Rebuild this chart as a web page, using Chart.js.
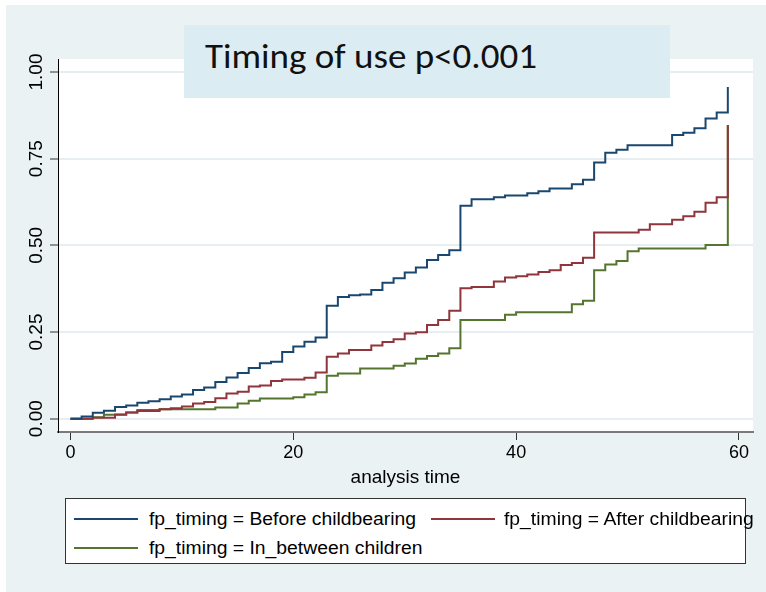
<!DOCTYPE html>
<html><head><meta charset="utf-8">
<script src="https://cdn.jsdelivr.net/npm/chart.js@4.4.1/dist/chart.umd.min.js"></script>
<style>
html,body{margin:0;padding:0;background:#fff;}
#wrap{position:relative;width:766px;height:592px;overflow:hidden;}
#bg{position:absolute;left:6px;top:5px;right:0;bottom:0;background:#eaf2f3;}
canvas{position:absolute;left:0;top:0;}
#title{position:absolute;left:184px;top:25px;width:486px;height:73px;background:#dbecf2;}
#title span{position:absolute;left:21px;top:10px;font-family:Carlito,Lato,sans-serif;font-size:35px;line-height:42px;white-space:nowrap;color:#111;transform-origin:0 0;}
#legend{position:absolute;left:65px;top:498px;width:681px;height:66px;background:#fff;border:1px solid #333;box-sizing:border-box;}
.sw{position:absolute;height:2px;}
.lt{position:absolute;font-family:"Liberation Sans",Arial,sans-serif;font-size:17.5px;line-height:20px;white-space:nowrap;color:#000;transform-origin:0 50%;}
</style></head>
<body>
<div id="wrap">
  <div id="bg"></div>
  <canvas id="c" width="766" height="592"></canvas>
  <div id="title"><span id="tt">Timing of use p&lt;0.001</span></div>
  <div id="legend"></div>
</div>
<script>
// ---- data ----
const seriesLabels = ["fp_timing = Before childbearing", "fp_timing = After childbearing", "fp_timing = In_between children"];
const seriesColors = ["#1a476f", "#90353b", "#55752f"];

const tBefore = [0,1,2,3,4,5,6,7,8,9,10,11,12,13,14,15,16,17,18,19,20,21,22,23,24,25,26,27,28,29,30,31,32,33,34,35,36,38,39,41,42,43,45,46,47,48,49,50,54,55,56,57,58,59];
const vBefore = [0,0.006,0.017,0.023,0.034,0.038,0.046,0.050,0.056,0.064,0.070,0.083,0.090,0.106,0.119,0.132,0.146,0.160,0.164,0.192,0.208,0.222,0.234,0.326,0.351,0.356,0.358,0.371,0.392,0.405,0.422,0.436,0.458,0.472,0.486,0.614,0.633,0.639,0.644,0.650,0.656,0.664,0.676,0.689,0.739,0.767,0.776,0.789,0.818,0.825,0.838,0.866,0.883,0.957];

const tAfter = [0,2,4,5,6,8,9,10,11,12,13,14,15,16,17,18,19,21,22,23,24,25,27,28,29,30,31,32,33,34,35,36,38,39,40,41,42,43,44,45,46,47,51,52,54,55,56,57,58,59];
const vAfter = [0,0.003,0.012,0.018,0.022,0.027,0.030,0.035,0.044,0.048,0.059,0.073,0.078,0.093,0.096,0.109,0.113,0.118,0.133,0.179,0.188,0.198,0.211,0.221,0.229,0.246,0.249,0.270,0.285,0.311,0.376,0.380,0.396,0.407,0.411,0.416,0.423,0.428,0.443,0.449,0.464,0.537,0.545,0.561,0.574,0.584,0.597,0.623,0.639,0.847];

const tBetween = [0,2,3,5,6,8,13,15,16,17,20,21,22,23,24,26,29,30,31,32,33,34,35,39,40,45,46,47,48,49,50,51,57,59];
const vBetween = [0,0.004,0.011,0.018,0.025,0.027,0.032,0.044,0.052,0.058,0.062,0.070,0.076,0.124,0.130,0.145,0.153,0.159,0.173,0.181,0.188,0.203,0.285,0.300,0.307,0.330,0.340,0.428,0.445,0.455,0.483,0.491,0.501,0.847];

const xTicks = [0,20,40,60];
const yTicks = [0,0.25,0.5,0.75,1];
const xTitle = "analysis time";

const seriesT = [tBefore, tAfter, tBetween];
const seriesV = [vBefore, vAfter, vBetween];

const datasets = seriesLabels.map((lab,i)=>({
  label: lab,
  data: seriesT[i].map((t,j)=>({x:t, y:seriesV[i][j]})),
  borderColor: seriesColors[i],
  borderWidth: 2,
  pointRadius: 0,
  fill: false,
  stepped: 'before',
  tension: 0
}));

const plotBg = {
  id:'plotBg',
  beforeDraw(chart){
    const a = chart.chartArea, ctx = chart.ctx;
    ctx.save(); ctx.fillStyle='#ffffff';
    ctx.fillRect(a.left, a.top, a.right-a.left, a.bottom-a.top);
    ctx.restore();
  }
};
const yLabels = {
  id:'yLabels',
  afterDraw(chart){
    const s = chart.scales.y, ctx = chart.ctx;
    ctx.save();
    ctx.font = '19px "Liberation Sans", Arial, sans-serif';
    ctx.fillStyle = '#000';
    ctx.textAlign = 'center';
    ctx.textBaseline = 'middle';
    s.ticks.forEach(t=>{
      const y = s.getPixelForValue(t.value);
      ctx.save(); ctx.translate(37, y); ctx.rotate(-Math.PI/2);
      ctx.fillText(t.value.toFixed(2), 0, 0);
      ctx.restore();
    });
    ctx.restore();
  }
};

new Chart(document.getElementById('c'), {
  type:'line',
  data:{datasets},
  options:{
    responsive:false, animation:false, devicePixelRatio:1,
    layout:{padding:{top:59,right:13,left:0,bottom:102}},
    plugins:{legend:{display:false}, tooltip:{enabled:false}, title:{display:false}},
    scales:{
      x:{
        type:'linear', min:-1.12, max:61.26,
        afterBuildTicks(s){ s.ticks = xTicks.map(v=>({value:v})); },
        afterFit(s){ s.height = 58; },
        grid:{drawOnChartArea:false, drawTicks:true, tickLength:8, tickColor:'#333', tickWidth:1},
        border:{display:true, color:'#7a7a7a', width:2},
        ticks:{color:'#000', padding:2, font:{family:'"Liberation Sans", Arial, sans-serif', size:18}, maxRotation:0, callback:v=>String(v)},
        title:{display:true, text:xTitle, color:'#000', font:{family:'"Liberation Sans", Arial, sans-serif', size:19}, padding:{top:0,bottom:1}}
      },
      y:{
        type:'linear', min:-0.0384, max:1.0375,
        afterBuildTicks(s){ s.ticks = yTicks.map(v=>({value:v})); },
        afterFit(s){ s.width = 58; },
        grid:{drawOnChartArea:true, color:'#e6eef1', lineWidth:2, drawTicks:true, tickLength:8, tickColor:'#333', tickWidth:1},
        border:{display:true, color:'#000', width:1},
        ticks:{display:false}
      }
    }
  },
  plugins:[plotBg, yLabels]
});

// title text fit
const tt = document.getElementById('tt');
const tw = tt.getBoundingClientRect().width;
tt.style.transform = 'scaleX(' + (332/tw) + ')';

// legend built from series arrays
const leg = document.getElementById('legend');
const pos = [{sx:8, tx:83, cy:20},{sx:365, tx:438, cy:20},{sx:8, tx:83, cy:49}];
let scale = null;
seriesLabels.forEach((lab,i)=>{
  const p = pos[i];
  const sw = document.createElement('div');
  sw.className='sw'; sw.style.left=p.sx+'px'; sw.style.width='64px'; sw.style.top=(p.cy-1)+'px'; sw.style.background=seriesColors[i];
  leg.appendChild(sw);
  const t = document.createElement('span');
  t.className='lt'; t.textContent=lab; t.style.left=p.tx+'px'; t.style.top=(p.cy-10)+'px';
  leg.appendChild(t);
  if (scale===null){ scale = 267/t.getBoundingClientRect().width; }
  t.style.transform='scaleX('+scale+')';
});
</script>
</body></html>
